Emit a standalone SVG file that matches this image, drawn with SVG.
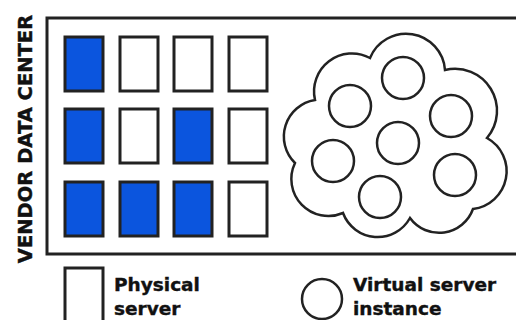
<svg xmlns="http://www.w3.org/2000/svg" width="516" height="320" viewBox="0 0 516 320">
<style>
.srv{fill:#fff;stroke:#222;stroke-width:3}
.on{fill:#0b55de}
.vm{fill:none;stroke:#222;stroke-width:2.5}
.t{font-family:"DejaVu Sans",Verdana,sans-serif;font-weight:bold;fill:#111;stroke:#111;stroke-width:0.4}
</style>
<rect width="516" height="320" fill="#fff"/>
<g id="datacenter">
<rect x="47" y="18" width="480" height="236" fill="none" stroke="#222" stroke-width="3"/>
<text class="t" font-size="19.5" transform="translate(32,139) rotate(-90)" text-anchor="middle">VENDOR DATA CENTER</text>
</g>
<g id="servers">
<rect class="srv on" x="65" y="37" width="38" height="54"/>
<rect class="srv" x="120" y="37" width="38" height="54"/>
<rect class="srv" x="174" y="37" width="38" height="54"/>
<rect class="srv" x="229" y="37" width="38" height="54"/>
<rect class="srv on" x="65" y="109" width="38" height="54"/>
<rect class="srv" x="120" y="109" width="38" height="54"/>
<rect class="srv on" x="174" y="109" width="38" height="54"/>
<rect class="srv" x="229" y="109" width="38" height="54"/>
<rect class="srv on" x="65" y="182" width="38" height="54"/>
<rect class="srv on" x="120" y="182" width="38" height="54"/>
<rect class="srv on" x="174" y="182" width="38" height="54"/>
<rect class="srv" x="229" y="182" width="38" height="54"/>
</g>
<g id="cloud">
<path d="M315,100 A38,38 0 0 1 370,58 A39,39 0 0 1 445,70 A42,42 0 0 1 487,138 A38,38 0 0 1 473,209 A36,36 0 0 1 410,218 A37,37 0 0 1 343,213 A37,37 0 0 1 295,163 A37,37 0 0 1 315,100 Z" fill="#fff" stroke="#222" stroke-width="2.5"/>
<circle class="vm" cx="403" cy="78" r="21"/>
<circle class="vm" cx="350" cy="106" r="21"/>
<circle class="vm" cx="451" cy="116" r="21"/>
<circle class="vm" cx="398" cy="143" r="21"/>
<circle class="vm" cx="333" cy="161" r="21"/>
<circle class="vm" cx="455" cy="175" r="21"/>
<circle class="vm" cx="380" cy="197" r="21"/>
</g>
<g id="legend-physical">
<rect class="srv" x="65" y="268" width="38" height="60"/>
<text class="t" font-size="18.5" x="114" y="291">Physical</text>
<text class="t" font-size="18.5" x="114" y="315">server</text>
</g>
<g id="legend-virtual">
<circle class="vm" cx="322" cy="299" r="20"/>
<text class="t" font-size="18.5" x="353" y="291">Virtual server</text>
<text class="t" font-size="18.5" x="353" y="315">instance</text>
</g>
</svg>
